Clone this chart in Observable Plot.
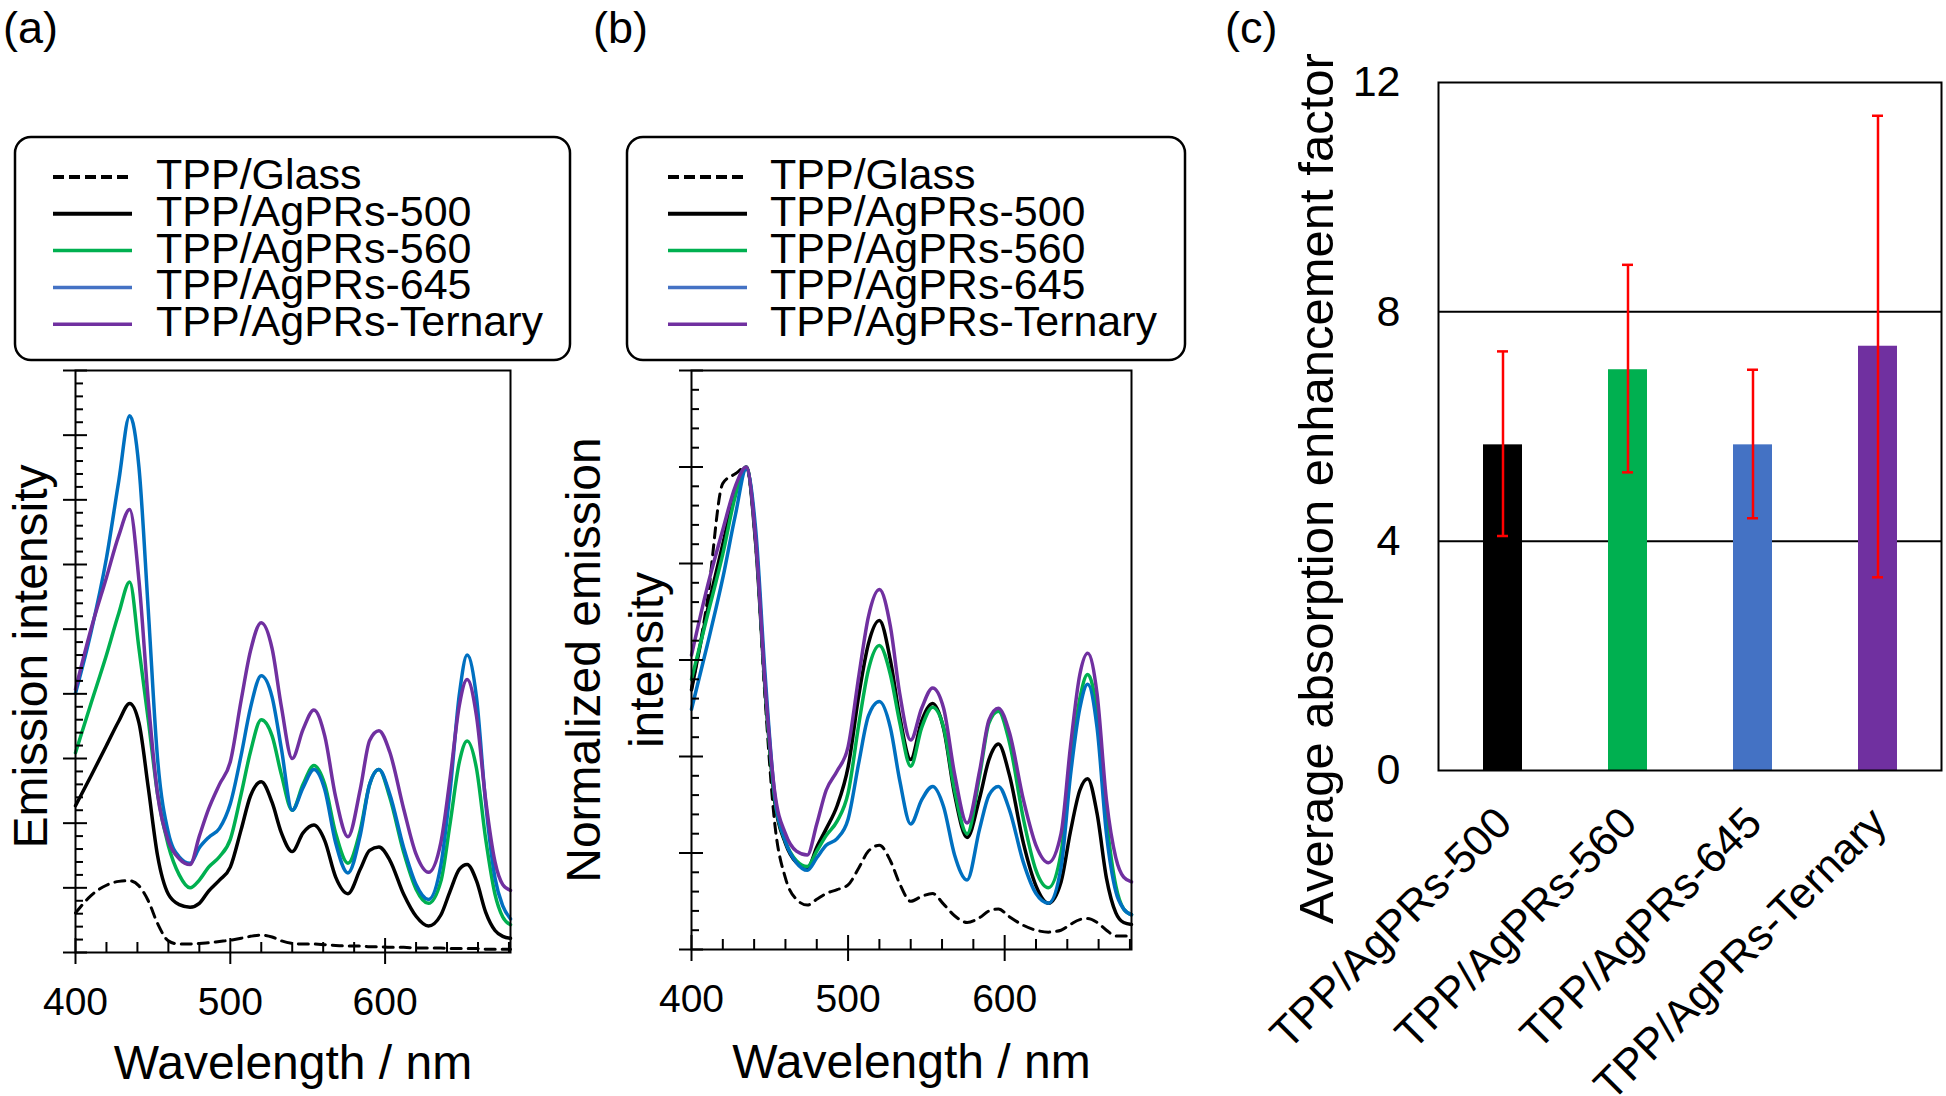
<!DOCTYPE html>
<html>
<head>
<meta charset="utf-8">
<script src="https://cdn.jsdelivr.net/npm/d3@7"></script>
<script src="https://cdn.jsdelivr.net/npm/@observablehq/plot@0.6"></script>
<style>
  html, body { margin: 0; padding: 0; background: #fff; }
  #root { position: relative; width: 1946px; height: 1096px; overflow: hidden;
          font-family: "Liberation Sans", Arial, sans-serif; color: #000; background: #fff; }
  .plabel { position: absolute; top: 3px; font-size: 45px; line-height: 1.1; }
</style>
</head>
<body>
<div id="root"></div>
<script>
// ---------------- DATA ----------------
const wavelengths = [400,410,420,428,435,441,447,453,460,467,474,480,486,493,500,507,513,520,527,533,540,547,554,561,568,576,584,590,596,603,612,620,628,636,642,648,653,659,665,671,676,681];

const seriesNames = ["TPP/Glass", "TPP/AgPRs-500", "TPP/AgPRs-560", "TPP/AgPRs-645", "TPP/AgPRs-Ternary"];

// (a) Emission intensity (arbitrary units)
const aGlass   = [0.61,0.88,1.04,1.10,1.11,1.03,0.80,0.45,0.18,0.13,0.13,0.14,0.15,0.17,0.19,0.22,0.25,0.27,0.24,0.18,0.14,0.13,0.13,0.12,0.11,0.10,0.10,0.09,0.09,0.08,0.08,0.07,0.07,0.07,0.06,0.06,0.06,0.06,0.05,0.05,0.05,0.05];
const a500     = [2.27,2.73,3.20,3.58,3.85,3.55,2.55,1.50,0.90,0.74,0.70,0.76,0.95,1.12,1.32,1.90,2.42,2.64,2.32,1.85,1.56,1.85,1.97,1.73,1.17,0.91,1.29,1.58,1.63,1.43,0.90,0.56,0.41,0.58,0.95,1.29,1.36,1.11,0.62,0.34,0.25,0.22];
const a560     = [3.09,3.85,4.60,5.25,5.73,4.70,3.60,2.45,1.65,1.20,1.00,1.12,1.32,1.48,1.75,2.45,3.10,3.60,3.35,2.75,2.20,2.60,2.89,2.60,1.85,1.38,1.90,2.60,2.83,2.40,1.55,0.98,0.76,1.10,2.00,2.95,3.27,2.85,1.75,0.90,0.55,0.43];
const a645     = [4.01,4.95,6.10,7.30,8.30,7.50,5.30,3.00,1.85,1.48,1.38,1.62,1.78,1.92,2.30,3.05,3.78,4.28,3.95,3.15,2.20,2.55,2.83,2.52,1.70,1.23,1.82,2.60,2.83,2.45,1.62,1.05,0.82,1.35,2.50,4.00,4.60,3.95,2.30,1.15,0.72,0.52];
const aTernary = [4.07,5.00,5.80,6.45,6.85,5.75,3.90,2.45,1.72,1.45,1.36,1.80,2.22,2.60,2.95,3.90,4.66,5.10,4.70,3.80,3.00,3.45,3.75,3.35,2.41,1.79,2.53,3.28,3.43,3.10,2.22,1.52,1.24,1.70,2.70,3.83,4.22,3.66,2.35,1.40,1.05,0.96];

// (b) Normalized emission intensity
const bGlass   = [2.70,3.60,4.83,4.93,5.00,4.20,2.60,1.33,0.74,0.52,0.46,0.52,0.58,0.62,0.67,0.85,1.02,1.08,0.92,0.68,0.50,0.55,0.58,0.47,0.35,0.28,0.33,0.40,0.42,0.34,0.25,0.20,0.18,0.20,0.26,0.31,0.32,0.28,0.20,0.14,0.14,0.14];
const b500     = [2.69,3.50,4.20,4.75,5.00,4.20,2.70,1.55,1.10,0.90,0.84,1.06,1.25,1.49,1.89,2.65,3.17,3.41,3.00,2.41,1.97,2.37,2.55,2.29,1.61,1.16,1.57,1.97,2.13,1.81,1.10,0.66,0.48,0.70,1.22,1.65,1.77,1.41,0.74,0.38,0.28,0.26];
const b560     = [2.80,3.45,4.10,4.70,5.00,4.25,2.72,1.58,1.12,0.92,0.86,1.02,1.18,1.33,1.62,2.35,2.90,3.15,2.85,2.35,1.90,2.30,2.51,2.30,1.65,1.20,1.80,2.35,2.47,2.15,1.35,0.82,0.64,1.00,1.90,2.60,2.85,2.45,1.35,0.66,0.42,0.36];
const b645     = [2.49,3.15,3.85,4.50,4.98,4.35,2.85,1.62,1.12,0.90,0.82,0.95,1.08,1.15,1.35,1.95,2.42,2.57,2.30,1.75,1.30,1.55,1.69,1.48,0.98,0.72,1.25,1.60,1.69,1.45,0.90,0.58,0.48,0.85,1.80,2.50,2.75,2.30,1.20,0.60,0.42,0.36];
const bTernary = [3.05,3.75,4.35,4.80,5.00,4.25,2.75,1.65,1.20,1.02,0.98,1.30,1.65,1.85,2.10,2.85,3.45,3.73,3.35,2.65,2.17,2.50,2.71,2.50,1.82,1.31,1.85,2.38,2.50,2.25,1.55,1.08,0.90,1.20,2.10,2.85,3.07,2.65,1.55,0.95,0.75,0.70];

// (c) Average absorption enhancement factor
const categories  = ["TPP/AgPRs-500", "TPP/AgPRs-560", "TPP/AgPRs-645", "TPP/AgPRs-Ternary"];
const enhancement = [5.68, 6.99, 5.68, 7.40];
const errLow      = [4.09, 5.20, 4.40, 3.37];
const errHigh     = [7.31, 8.82, 6.99, 11.42];

// tick labels
const xTickLabels = [400, 500, 600];
const cTickLabels = [0, 4, 8, 12];

// styles
const curveColors  = ["#000000", "#000000", "#00b050", "#0070c0", "#7030a0"];
const legendColors = ["#000000", "#000000", "#00b050", "#4472c4", "#7030a0"];
const barColors    = ["#000000", "#00b050", "#4472c4", "#7030a0"];
const FONT = "Liberation Sans, Arial, sans-serif";

const root = document.getElementById("root");
const baseStyle = {fontFamily: FONT, color: "#000", background: "transparent", overflow: "visible", maxWidth: "none"};

function place(el, left, top) {
  el.style.position = "absolute";
  el.style.left = left + "px";
  el.style.top = top + "px";
  root.appendChild(el);
}

// ---------------- spectrum panels ----------------
function spectrumPanel(o) {
  const marks = [];
  o.values.forEach((vals, j) => {
    const rows = wavelengths.map((w, i) => ({wl: w, v: vals[i]}));
    marks.push(Plot.line(rows, {
      x: "wl", y: "v", stroke: curveColors[j],
      strokeWidth: j === 0 ? 3 : 3.5,
      ...(j === 0 ? {strokeDasharray: "10,7"} : {}),
      curve: "monotone-x"
    }));
  });
  const xMinor = d3.range(400, 681, 20).filter(v => v % 100 !== 0);
  const yMajor = d3.range(0, o.yMax + 1);
  const yMinor = d3.range(0, o.yMax * 5 + 1).filter(k => k % 5 !== 0).map(k => k / 5);
  marks.push(
    Plot.frame({stroke: "#000", strokeWidth: 2}),
    Plot.ruleX(xTickLabels, {x: d => d, y1: 0, y2: 0, insetTop: -14, insetBottom: -12, stroke: "#000", strokeWidth: 2}),
    Plot.ruleX(xMinor, {x: d => d, y1: 0, y2: 0, insetTop: -10, insetBottom: 0, stroke: "#000", strokeWidth: 2}),
    Plot.ruleY(yMajor, {y: d => d, x1: 400, x2: 400, insetLeft: -12, insetRight: -12, stroke: "#000", strokeWidth: 2}),
    Plot.ruleY(yMinor, {y: d => d, x1: 400, x2: 400, insetLeft: 0, insetRight: -8, stroke: "#000", strokeWidth: 2}),
    Plot.axisX(xTickLabels, {tickSize: 0, tickPadding: 35, fontSize: 39, label: null, tickFormat: d => String(d)}),
    Plot.text([o.ylabel], {text: d => d, frameAnchor: "left", textAnchor: "middle", lineAnchor: "middle", rotate: -90, dx: o.ylabelDx, dy: o.ylabelDy, fontSize: 48, lineHeight: 1.3}),
    Plot.text(["Wavelength / nm"], {text: d => d, frameAnchor: "bottom", textAnchor: "middle", lineAnchor: "bottom", dy: o.xlabelDy, fontSize: 48})
  );
  const svg = Plot.plot({
    width: o.width, height: 1096,
    marginLeft: o.marginLeft, marginRight: o.marginRight, marginTop: o.marginTop, marginBottom: o.marginBottom,
    x: {domain: [400, 681], axis: null},
    y: {domain: [0, o.yMax], axis: null},
    style: baseStyle,
    marks
  });
  place(svg, o.left, 0);
}

spectrumPanel({
  values: [aGlass, a500, a560, a645, aTernary], yMax: 9,
  left: 0, width: 580, marginLeft: 75, marginRight: 70, marginTop: 370, marginBottom: 144,
  ylabel: "Emission intensity", ylabelDx: -48, ylabelDy: -5, xlabelDy: 126
});
spectrumPanel({
  values: [bGlass, b500, b560, b645, bTernary], yMax: 6,
  left: 580, width: 580, marginLeft: 111, marginRight: 29, marginTop: 370, marginBottom: 147,
  ylabel: "Normalized emission\nintensity", ylabelDx: -80, ylabelDy: 0, xlabelDy: 128
});

// ---------------- bar panel ----------------
const barRows = categories.map((c, i) => ({cat: c, value: enhancement[i], lo: errLow[i], hi: errHigh[i], color: barColors[i]}));
const svgC = Plot.plot({
  width: 786, height: 1096,
  marginLeft: 278, marginRight: 5, marginTop: 82, marginBottom: 326,
  x: {domain: categories, paddingInner: 0.69, paddingOuter: 0.345, axis: null},
  y: {domain: [0, 12], axis: null},
  color: {type: "identity"},
  style: baseStyle,
  marks: [
    Plot.ruleY([4, 8], {y: d => d, stroke: "#000", strokeWidth: 2}),
    Plot.barY(barRows, {x: "cat", y: "value", fill: "color"}),
    Plot.frame({stroke: "#000", strokeWidth: 2}),
    Plot.ruleX(barRows, {x: "cat", y1: "lo", y2: "hi", stroke: "#ff0000", strokeWidth: 2.5}),
    Plot.tickY(barRows, {x: "cat", y: "lo", stroke: "#ff0000", strokeWidth: 2.5, insetLeft: 14, insetRight: 14}),
    Plot.tickY(barRows, {x: "cat", y: "hi", stroke: "#ff0000", strokeWidth: 2.5, insetLeft: 14, insetRight: 14}),
    Plot.axisY(cTickLabels, {tickSize: 0, tickPadding: 38, fontSize: 43, label: null, tickFormat: d => String(d)}),
    Plot.text(categories, {x: d => d, text: d => d, frameAnchor: "bottom", rotate: -45, textAnchor: "end", lineAnchor: "bottom", dx: 11, dy: 55, fontSize: 43.5}),
    Plot.text(["Average absorption enhancement factor"], {text: d => d, frameAnchor: "left", textAnchor: "middle", lineAnchor: "middle", rotate: -90, dx: -121, dy: 62, fontSize: 49})
  ]
});
place(svgC, 1160, 0);

// ---------------- legends ----------------
function legend(left, top, boxW, swX1, swX2, textX) {
  const svg = d3.create("svg").attr("width", boxW + 6).attr("height", 230)
    .style("overflow", "visible").style("font-family", FONT);
  svg.append("rect").attr("x", 2).attr("y", 2).attr("width", boxW).attr("height", 223)
    .attr("rx", 16).attr("fill", "none").attr("stroke", "#000").attr("stroke-width", 2.5);
  seriesNames.forEach((name, j) => {
    const cy = 42 + j * 36.8;
    svg.append("line").attr("x1", swX1).attr("x2", swX2).attr("y1", cy).attr("y2", cy)
      .attr("stroke", legendColors[j]).attr("stroke-width", j < 2 ? 4 : 3.5)
      .attr("stroke-dasharray", j === 0 ? "11,5" : null);
    svg.append("text").attr("x", textX).attr("y", cy + 12).attr("font-size", 43).attr("fill", "#000").text(name);
  });
  place(svg.node(), left, top);
}
legend(13, 135, 555, 40, 119, 143);
legend(625, 135, 558, 43, 122, 145);

// ---------------- panel labels ----------------
[["(a)", 3], ["(b)", 593], ["(c)", 1225]].forEach(([t, x]) => {
  const d = document.createElement("div");
  d.className = "plabel";
  d.textContent = t;
  d.style.left = x + "px";
  root.appendChild(d);
});
</script>
</body>
</html>
